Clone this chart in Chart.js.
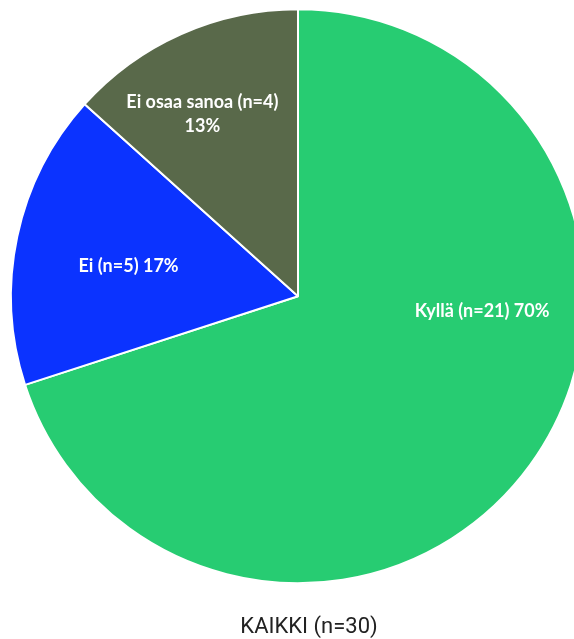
<!DOCTYPE html>
<html>
<head>
<meta charset="utf-8">
<script src="https://cdn.jsdelivr.net/npm/chart.js@4.4.1/dist/chart.umd.min.js"></script>
<style>
  html, body { margin: 0; padding: 0; background: #fff; overflow: hidden; }
  #wrap { position: relative; width: 618px; height: 639px; }
</style>
</head>
<body>
<div id="wrap"><canvas id="c"></canvas></div>
<script>
const categories = ["Kyllä", "Ei", "Ei osaa sanoa"];
const counts = [21, 5, 4];
const percents = [70, 17, 13];
const sliceColors = ["#27CC72", "#0B33FF", "#59694A"];
const titleText = "KAIKKI (n=30)";
// label placement: angle (deg, 0 = right, clockwise) and radius fraction
const labelAngles = [4.8, 190.2, 242.3];
const labelRadii = [0.644, 0.600, 0.717];
const labelLines = [
  ["Kyllä (n=21) 70%"],
  ["Ei (n=5) 17%"],
  ["Ei osaa sanoa (n=4)", "13%"]
];

const labelPlugin = {
  id: 'sliceLabels',
  afterDatasetsDraw(chart) {
    const ctx = chart.ctx;
    const meta = chart.getDatasetMeta(0);
    ctx.save();
    ctx.fillStyle = '#ffffff';
    ctx.font = 'bold 18px Lato';
    ctx.textAlign = 'center';
    ctx.textBaseline = 'middle';
    meta.data.forEach((arc, i) => {
      const a = labelAngles[i] * Math.PI / 180;
      const r = arc.outerRadius * labelRadii[i];
      const cx = arc.x + Math.cos(a) * r;
      const cy = arc.y + Math.sin(a) * r;
      const lines = labelLines[i];
      const lh = 24;
      const start = cy - (lines.length - 1) * lh / 2;
      lines.forEach((t, k) => ctx.fillText(t, cx, start + k * lh));
    });
    // bottom title, centred on the canvas
    ctx.fillStyle = '#222222';
    ctx.font = '22px Roboto';
    ctx.textBaseline = 'alphabetic';
    ctx.fillText(titleText, chart.width / 2, chart.height - 6);
    ctx.restore();
  }
};

new Chart(document.getElementById('c'), {
  type: 'pie',
  data: {
    labels: categories,
    datasets: [{
      data: counts,
      backgroundColor: sliceColors,
      borderColor: '#ffffff',
      borderWidth: 2
    }]
  },
  options: {
    responsive: true,
    maintainAspectRatio: false,
    animation: false,
    layout: { padding: { left: 10, right: 32, top: 8, bottom: 54.6 } },
    plugins: {
      legend: { display: false },
      tooltip: { enabled: false },
      title: { display: false }
    }
  },
  plugins: [labelPlugin]
});
</script>
</body>
</html>
